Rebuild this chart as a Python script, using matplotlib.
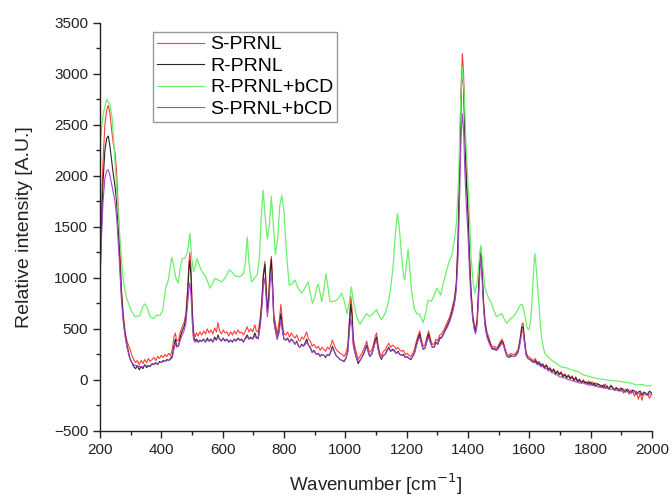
import numpy as np
import matplotlib.pyplot as plt
from matplotlib.ticker import MultipleLocator

plt.rcParams['font.family'] = ['Liberation Sans', 'DejaVu Sans']

# shared wavenumber grid for the three noisy spectra
wn = [200, 205, 210, 216, 222, 227, 232, 238, 244, 249,
      254, 260, 265, 270, 276, 282, 288, 294, 298, 304,
      310, 316, 322, 328, 334, 340, 346, 352, 358, 363,
      370, 376, 382, 388, 394, 400, 406, 412, 418, 424,
      430, 436, 441, 446, 450, 456, 462, 468, 474, 480,
      486, 490, 493, 497, 501, 505, 510, 515, 520, 526,
      532, 538, 544, 550, 556, 562, 568, 574, 580, 585,
      590, 596, 602, 608, 614, 620, 626, 632, 638, 644,
      650, 656, 662, 668, 674, 680, 686, 692, 698, 705,
      710, 716, 720, 724, 728, 733, 738, 742, 746, 750,
      755, 759, 763, 767, 772, 778, 784, 790, 795, 800,
      806, 812, 818, 824, 830, 836, 842, 848, 852, 858,
      864, 870, 874, 880, 886, 892, 898, 906, 912, 918,
      924, 930, 936, 942, 948, 954, 958, 964, 970, 976,
      983, 990, 996, 1002, 1008, 1013, 1018, 1022, 1026, 1031,
      1037, 1042, 1048, 1054, 1060, 1065, 1070, 1076, 1080, 1086,
      1092, 1097, 1102, 1107, 1112, 1118, 1124, 1130, 1136, 1142,
      1148, 1154, 1160, 1166, 1172, 1178, 1184, 1190, 1196, 1202,
      1208, 1214, 1220, 1226, 1232, 1238, 1243, 1248, 1254, 1260,
      1266, 1272, 1278, 1284, 1290, 1296, 1302, 1308, 1314, 1320,
      1326, 1332, 1338, 1344, 1350, 1356, 1362, 1368, 1373, 1378,
      1382, 1386, 1390, 1395, 1400, 1405, 1410, 1416, 1421, 1425,
      1430, 1435, 1440, 1443, 1447, 1451, 1456, 1462, 1468, 1474,
      1480, 1486, 1492, 1498, 1505, 1511, 1516, 1522, 1528, 1534,
      1540, 1546, 1552, 1558, 1564, 1570, 1576, 1580, 1584, 1590,
      1596, 1602, 1608, 1614, 1620, 1626, 1632, 1638, 1644, 1650,
      1656, 1662, 1668, 1674, 1680, 1686, 1692, 1698, 1704, 1710,
      1716, 1722, 1728, 1734, 1740, 1746, 1752, 1758, 1764, 1770,
      1776, 1782, 1788, 1794, 1800, 1806, 1812, 1818, 1824, 1830,
      1836, 1842, 1848, 1854, 1860, 1866, 1872, 1878, 1884, 1890,
      1896, 1902, 1908, 1914, 1920, 1926, 1932, 1938, 1944, 1950,
      1956, 1962, 1968, 1974, 1980, 1986, 1992, 2000]

s_prnl = [1200, 1700, 2150, 2500, 2650, 2690, 2620, 2450, 2300, 2230,
          2050, 1650, 1280, 900, 640, 470, 380, 330, 300, 240,
          200, 170, 190, 150, 190, 160, 200, 170, 210, 180,
          200, 220, 190, 230, 210, 240, 220, 250, 230, 260,
          240, 300, 420, 460, 380, 390, 470, 520, 560, 650,
          900, 1150, 1250, 1100, 700, 480, 420, 460, 430, 470,
          440, 480, 450, 500, 460, 490, 450, 510, 470, 560,
          480, 450, 490, 460, 470, 430, 470, 440, 480, 450,
          490, 460, 470, 440, 480, 520, 470, 500, 470, 540,
          480, 470, 560, 650, 800, 1050, 1160, 920, 700, 820,
          1100, 1210, 950, 640, 560, 450, 560, 740, 560, 450,
          440, 470, 420, 460, 430, 410, 440, 390, 380, 420,
          400, 440, 470, 400, 380, 330, 350, 310, 330, 290,
          320, 300, 280, 320, 300, 350, 390, 340, 300, 280,
          260, 250, 230, 260, 330, 560, 820, 700, 420, 330,
          260, 200, 230, 260, 300, 340, 380, 300, 270, 290,
          350, 420, 460, 350, 270, 230, 280, 290, 330, 360,
          320, 340, 330, 300, 320, 290, 280, 290, 250, 260,
          240, 230, 260, 300, 380, 440, 480, 400, 330, 340,
          420, 480, 400, 350, 350, 400, 380, 440, 450, 480,
          520, 560, 600, 650, 720, 800, 950, 1400, 2100, 2900,
          3200, 3000, 2500, 2000, 1700, 1250, 900, 640, 540, 500,
          600, 900, 1250, 1300, 1050, 780, 580, 470, 420, 360,
          320, 330, 310, 330, 370, 400, 370, 300, 250, 240,
          260, 250, 250, 270, 300, 400, 540, 560, 420, 270,
          230, 220, 200, 190, 210, 170, 180, 150, 160, 130,
          150, 110, 120, 90, 110, 70, 90, 60, 80, 40,
          60, 30, 50, 20, 40, 0, 30, -10, 10, -30,
          0, -20, -40, -10, -50, -20, -60, -30, -40, -70,
          -50, -80, -40, -70, -90, -50, -80, -100, -70, -110,
          -80, -100, -130, -90, -110, -140, -100, -120, -160, -110,
          -190, -130, -200, -120, -150, -130, -180, -140]

r_prnl = [1000, 1500, 1950, 2250, 2370, 2390, 2300, 2150, 2000, 1900,
          1750, 1450, 1150, 850, 600, 450, 340, 260, 210, 170,
          130, 110, 140, 100, 130, 110, 150, 120, 140, 130,
          160, 150, 170, 150, 180, 170, 190, 180, 200, 190,
          210, 240, 330, 400, 330, 340, 420, 480, 520, 600,
          850, 1080, 1170, 1000, 650, 430, 380, 400, 370, 390,
          380, 400, 370, 410, 380, 400, 370, 420, 390, 440,
          400, 380, 410, 380, 400, 370, 390, 370, 400, 380,
          410, 390, 400, 370, 410, 440, 400, 420, 400, 460,
          420, 410, 500, 600, 760, 1020, 1130, 880, 660, 780,
          1060, 1180, 920, 600, 500, 400, 490, 650, 500, 400,
          390, 410, 370, 400, 380, 350, 380, 330, 320, 350,
          330, 370, 400, 340, 320, 270, 290, 250, 260, 230,
          250, 240, 220, 250, 240, 290, 330, 280, 240, 220,
          200, 190, 180, 210, 280, 520, 740, 640, 370, 280,
          210, 160, 190, 220, 260, 300, 340, 260, 230, 250,
          310, 380, 420, 310, 240, 200, 240, 250, 290, 320,
          280, 300, 290, 260, 280, 250, 240, 250, 220, 230,
          210, 200, 230, 270, 350, 410, 450, 370, 300, 310,
          390, 450, 370, 320, 320, 370, 350, 410, 420, 450,
          490, 530, 570, 620, 690, 770, 920, 1350, 2050, 2800,
          3010, 2880, 2400, 1950, 1650, 1200, 870, 610, 510, 470,
          570, 880, 1230, 1280, 1020, 750, 550, 440, 390, 340,
          300, 310, 290, 310, 350, 380, 350, 280, 230, 220,
          240, 230, 230, 250, 280, 380, 510, 520, 400, 250,
          210, 200, 190, 170, 190, 160, 170, 140, 150, 120,
          140, 100, 110, 80, 100, 60, 80, 50, 70, 30,
          50, 20, 40, 10, 30, -10, 20, -20, 0, -30,
          -10, -30, -20, -40, -20, -50, -30, -60, -40, -50,
          -70, -50, -80, -60, -90, -60, -70, -100, -80, -90,
          -110, -80, -100, -120, -90, -110, -130, -100, -110, -140,
          -120, -110, -150, -120, -130, -150, -110, -130]

s_prnl_bcd = [950, 1400, 1750, 1980, 2050, 2060, 2010, 1920, 1830, 1750,
              1600, 1330, 1050, 780, 560, 420, 320, 240, 200, 170,
              150, 140, 140, 130, 130, 130, 140, 140, 140, 140,
              150, 150, 160, 160, 170, 170, 180, 180, 190, 190,
              200, 220, 300, 360, 320, 330, 390, 440, 480, 550,
              750, 900, 950, 820, 560, 400, 370, 380, 370, 380,
              380, 390, 380, 390, 380, 390, 380, 400, 390, 420,
              400, 390, 400, 390, 390, 380, 390, 380, 390, 390,
              400, 390, 390, 380, 400, 420, 400, 410, 400, 430,
              410, 400, 470, 560, 700, 920, 1000, 800, 620, 730,
              960, 1060, 850, 570, 480, 400, 460, 590, 480, 400,
              390, 400, 370, 390, 380, 350, 370, 330, 320, 340,
              330, 350, 370, 340, 310, 270, 280, 250, 260, 240,
              250, 240, 230, 250, 240, 280, 310, 280, 240, 220,
              200, 190, 190, 210, 270, 450, 600, 530, 340, 270,
              210, 180, 190, 220, 250, 290, 320, 270, 240, 250,
              300, 360, 390, 300, 240, 210, 240, 250, 280, 310,
              280, 290, 280, 260, 270, 250, 240, 240, 220, 230,
              210, 210, 230, 260, 330, 390, 420, 360, 300, 310,
              370, 420, 360, 320, 320, 360, 350, 400, 410, 440,
              480, 510, 550, 600, 660, 740, 870, 1200, 1800, 2400,
              2610, 2450, 2050, 1700, 1450, 1080, 800, 580, 490, 450,
              540, 800, 1120, 1180, 950, 700, 520, 420, 370, 330,
              300, 300, 290, 300, 330, 360, 340, 280, 230, 220,
              230, 230, 230, 240, 270, 350, 470, 480, 370, 240,
              210, 200, 180, 170, 170, 150, 150, 130, 130, 110,
              110, 90, 90, 70, 70, 50, 50, 30, 30, 20,
              20, 10, 0, 0, -10, -10, -20, -20, -30, -30,
              -30, -40, -40, -50, -50, -50, -60, -60, -70, -70,
              -70, -80, -80, -80, -90, -90, -90, -100, -100, -100,
              -100, -110, -110, -110, -110, -120, -120, -120, -120, -130,
              -130, -130, -130, -130, -140, -140, -140, -140]

# smoother spectrum with its own grid
wn_bcd = [200, 210, 222, 232, 240, 254, 265, 275, 285, 300,
          314, 330, 340, 347, 355, 363, 374, 385, 395, 405,
          414, 423, 434, 440, 447, 455, 462, 468, 477, 485,
          493, 499, 505, 512, 517, 522, 528, 535, 545, 559,
          568, 575, 585, 597, 610, 622, 630, 640, 656, 668,
          674, 680, 686, 694, 705, 713, 720, 726, 732, 740,
          746, 752, 759, 766, 772, 780, 786, 793, 800, 808,
          817, 826, 836, 846, 858, 868, 879, 886, 893, 900,
          906, 912, 918, 923, 930, 937, 944, 950, 966, 978,
          988, 996, 1006, 1013, 1020, 1027, 1037, 1048, 1058, 1070,
          1080, 1090, 1102, 1112, 1118, 1130, 1140, 1148, 1156, 1164,
          1170, 1176, 1183, 1190, 1194, 1200, 1205, 1210, 1216, 1225,
          1233, 1243, 1254, 1262, 1270, 1281, 1290, 1298, 1305, 1311,
          1320, 1333, 1340, 1347, 1355, 1363, 1370, 1376, 1382, 1388,
          1394, 1401, 1407, 1411, 1417, 1423, 1430, 1436, 1442, 1448,
          1455, 1465, 1477, 1485, 1493, 1500, 1510, 1518, 1526, 1536,
          1548, 1558, 1565, 1572, 1578, 1585, 1592, 1598, 1604, 1608,
          1613, 1618, 1623, 1629, 1635, 1640, 1646, 1651, 1660, 1678,
          1690, 1705, 1720, 1743, 1760, 1776, 1800, 1819, 1840, 1863,
          1885, 1906, 1930, 1950, 1970, 1985, 2000]

r_prnl_bcd = [2320, 2600, 2750, 2700, 2560, 1890, 1400, 1000, 820, 690,
              620, 630, 720, 745, 700, 620, 600, 635, 630, 680,
              900, 980, 1200, 1130, 1000, 950, 1100, 1190, 1190, 1250,
              1435, 1200, 1060, 1130, 1190, 1140, 1090, 1050, 1010, 900,
              950, 995, 980, 960, 1010, 1080, 1060, 1020, 1010, 1040,
              1150, 1400, 1150, 960, 1000, 1030, 1200, 1600, 1860, 1550,
              1380, 1500, 1800, 1500, 1230, 1400, 1700, 1810, 1650, 1250,
              930, 940, 980, 900, 850, 900, 960, 850, 750, 800,
              900, 940, 850, 765, 880, 1040, 900, 770, 770, 800,
              850, 780, 650, 760, 910, 760, 620, 545, 600, 650,
              620, 650, 690, 620, 590, 650, 750, 900, 1110, 1450,
              1630, 1500, 1240, 1020, 980, 1150, 1280, 1100, 880, 700,
              650, 640, 560, 650, 780, 770, 830, 900, 870, 830,
              950, 1100, 1170, 1210, 1350, 1550, 2000, 2700, 3070, 2800,
              2300, 1890, 1450, 1170, 950, 850, 950, 1150, 1320, 1150,
              910, 820, 750, 680, 620, 630, 650, 600, 555, 590,
              620, 660, 700, 740, 735, 650, 520, 490, 560, 720,
              1000, 1240, 1100, 850, 600, 420, 320, 260, 230, 180,
              160, 125, 120, 95, 80, 50, 30, 15, 5, -5,
              -10, -20, -30, -50, -45, -60, -55]

labels = ['S-PRNL', 'R-PRNL', 'R-PRNL+bCD', 'S-PRNL+bCD']
colors = ['#ff3b3b', '#262626', '#6cf06c', '#a646c8']

fig = plt.figure(figsize=(6.72, 4.97), dpi=100)
ax = fig.add_axes([0.1488, 0.133, 0.8212, 0.821])

ax.plot(wn, s_prnl, color=colors[0], lw=0.8, label=labels[0])
ax.plot(wn, r_prnl, color=colors[1], lw=0.8, label=labels[1])
ax.plot(wn_bcd, r_prnl_bcd, color=colors[2], lw=0.9, label=labels[2])
ax.plot(wn, s_prnl_bcd, color=colors[3], lw=0.8, label=labels[3])

ax.set_xlim(200, 2000)
ax.set_ylim(-500, 3500)
ax.xaxis.set_major_locator(MultipleLocator(200))
ax.xaxis.set_minor_locator(MultipleLocator(100))
ax.yaxis.set_major_locator(MultipleLocator(500))
ax.yaxis.set_minor_locator(MultipleLocator(250))

for side in ['top', 'right']:
    ax.spines[side].set_visible(False)
for side in ['left', 'bottom']:
    ax.spines[side].set_linewidth(1.0)
    ax.spines[side].set_color('#222222')

ax.tick_params(which='major', direction='out', length=5, width=1,
               labelsize=11, colors='#222222')
ax.tick_params(which='minor', direction='out', length=3, width=1,
               colors='#222222')

ax.set_xlabel('Wavenumber [cm$^{-1}$]', fontsize=13.5, color='#222222')
ax.set_ylabel('Relative intensity [A.U.]', fontsize=14, color='#222222')
ax.xaxis.set_label_coords(0.5, -0.1)
ax.yaxis.set_label_coords(-0.122, 0.5)

leg = ax.legend(loc='upper left', bbox_to_anchor=(0.096, 0.978),
                borderaxespad=0, fancybox=False, fontsize=14,
                handlelength=2.4, handletextpad=0.35, labelspacing=0.2,
                borderpad=0.2, framealpha=1)
leg.get_frame().set_edgecolor('#999999')
leg.get_frame().set_linewidth(1.0)

fig.savefig('out.png', dpi=100)
